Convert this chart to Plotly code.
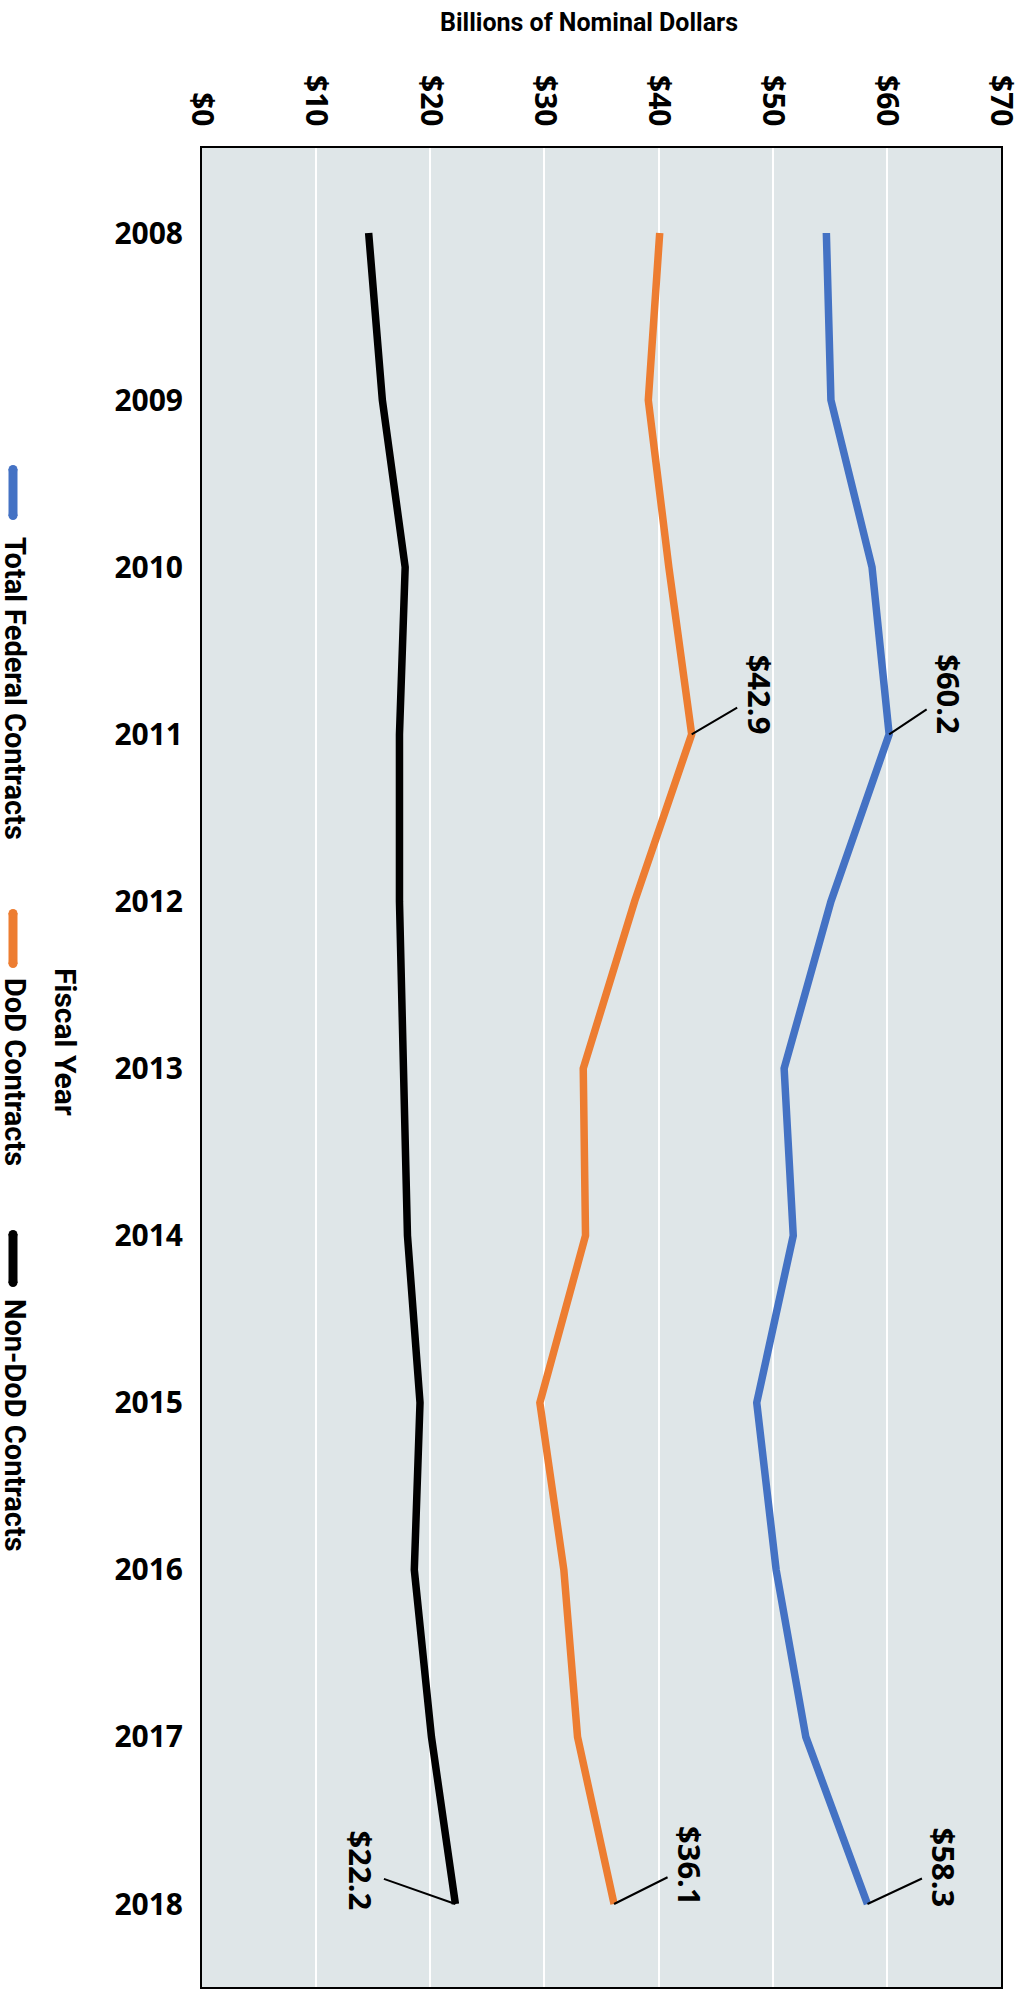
import plotly.graph_objects as go

years = [2008, 2009, 2010, 2011, 2012, 2013, 2014, 2015, 2016, 2017, 2018]
total_federal = [54.7, 55.1, 58.7, 60.2, 55.1, 51.0, 51.8, 48.6, 50.3, 52.9, 58.3]
dod = [40.1, 39.1, 40.9, 42.9, 37.9, 33.4, 33.6, 29.6, 31.7, 32.9, 36.1]
non_dod = [14.6, 15.8, 17.8, 17.3, 17.3, 17.6, 18.0, 19.1, 18.6, 20.1, 22.2]
series_names = ["Total Federal Contracts", "DoD Contracts", "Non-DoD Contracts"]
x_ticks = [0, 10, 20, 30, 40, 50, 60, 70]
x_tick_labels = ["$0", "$10", "$20", "$30", "$40", "$50", "$60", "$70"]

colors = ["#4472C4", "#ED7D31", "#000000"]

W, H = 1025, 1989
L, R, T, B = 202, 24, 148, 2
PW, PH = W - L - R, H - T - B

GOTHAM = "Open Sans, Lato, sans-serif"
NARROW = "Roboto, Liberation Sans, sans-serif"


def px(x):
    return (x - L) / PW


def py(y):
    return 1 - (y - T) / PH


# year axis range so that 2008 sits at y=233 and 2018 at y=1904
per_year = (1904 - 233) / 10.0
y_top = 2008 - (233 - T) / per_year
y_bot = y_top + PH / per_year

fig = go.Figure()
for name, vals, col in zip(series_names, [total_federal, dod, non_dod], colors):
    fig.add_trace(go.Scatter(x=vals, y=years, mode="lines", name=name,
                             line=dict(color=col, width=7.5), showlegend=False))

# data labels with leader lines
labels = [
    (total_federal, 3, 60, -40),
    (dod, 3, 68, -40),
    (total_federal, 10, 77, -36),
    (dod, 10, 76, -38),
    (non_dod, 10, -94, -33),
]
for vals, i, ax, ay in labels:
    fig.add_annotation(x=vals[i], y=years[i], xref="x", yref="y",
                       text="$%.1f" % vals[i], textangle=90,
                       showarrow=True, arrowhead=0, arrowwidth=2, arrowcolor="black",
                       ax=ax, ay=ay, standoff=0,
                       font=dict(family=GOTHAM, size=31, color="black", weight="bold"))

# legend (rotated)
leg = [(465, 520, 688, series_names[0]), (909, 968, 1072, series_names[1]),
       (1230, 1287, 1425, series_names[2])]
for (y0, y1, yc, name), col in zip(leg, colors):
    fig.add_shape(type="line", xref="paper", yref="paper", x0=px(13), x1=px(13),
                  y0=py(y0 + 4), y1=py(y1 - 4), line=dict(color=col, width=9))
    fig.add_shape(type="circle", xref="paper", yref="paper", x0=px(8.5), x1=px(17.5),
                  y0=py(y0 + 9), y1=py(y0), fillcolor=col, line=dict(width=0))
    fig.add_shape(type="circle", xref="paper", yref="paper", x0=px(8.5), x1=px(17.5),
                  y0=py(y1), y1=py(y1 - 9), fillcolor=col, line=dict(width=0))
    fig.add_annotation(x=px(15), y=py(yc), xref="paper", yref="paper", text=name,
                       textangle=90, showarrow=False, xanchor="center", yanchor="middle",
                       font=dict(family=NARROW, size=29, color="black", weight="bold"))

fig.add_annotation(x=px(66), y=py(1042), xref="paper", yref="paper", text="Fiscal Year",
                   textangle=90, showarrow=False, xanchor="center", yanchor="middle",
                   font=dict(family=NARROW, size=30, color="black", weight="bold"))
fig.add_annotation(x=px(589), y=py(23), xref="paper", yref="paper",
                   text="Billions of Nominal Dollars",
                   showarrow=False, xanchor="center", yanchor="middle",
                   font=dict(family=NARROW, size=25, color="black", weight="bold"))

fig.update_layout(
    width=W, height=H,
    margin=dict(l=L, r=R, t=T, b=B, autoexpand=False),
    paper_bgcolor="white", plot_bgcolor="#DFE6E8",
    xaxis=dict(side="top", range=[0, 70], tickvals=x_ticks, ticktext=x_tick_labels,
               tickangle=90, showgrid=True, gridcolor="white", gridwidth=2,
               showline=True, linecolor="black", linewidth=2, mirror=True,
               zeroline=False, ticks="", ticklabelstandoff=9, automargin=False,
               ticklabeloverflow="allow",
               tickfont=dict(family=GOTHAM, size=30, color="black", weight="bold")),
    yaxis=dict(range=[y_bot, y_top], tickvals=years, ticktext=[str(y) for y in years],
               showgrid=False, showline=True, linecolor="black", linewidth=2, mirror=True,
               zeroline=False, ticks="", ticklabelstandoff=11, automargin=False,
               ticklabeloverflow="allow",
               tickfont=dict(family=GOTHAM, size=30, color="black", weight="bold")),
)

fig.write_html("out.html",
               config={"displayModeBar": False},
               post_script="document.body.style.margin='0px';"
                           "document.body.style.overflow='hidden';")
